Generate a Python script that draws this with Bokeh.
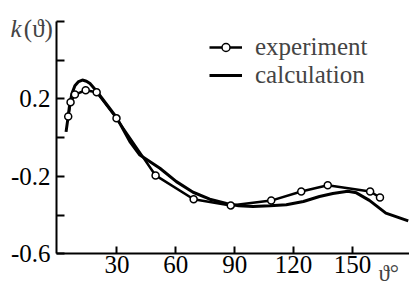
from bokeh.plotting import figure
from bokeh.models import FixedTicker, Label, Legend, LegendItem, Range1d
from bokeh.embed import file_html
from bokeh.resources import INLINE

# experiment (circles)
exp_theta = [5.2, 6.4, 8.6, 14.1, 19.7, 29.8, 49.7, 69.1, 88.0, 108.6, 123.9, 137.4, 159.0, 164.0]
exp_k = [0.11, 0.183, 0.223, 0.245, 0.235, 0.10, -0.195, -0.318, -0.35, -0.325, -0.278, -0.246, -0.278, -0.309]

# calculation (solid curve)
calc_theta = [4.1, 5.2, 5.8, 7.0, 8.6, 10.5, 12.4, 14.5, 16.3, 19.7, 25.0, 29.8, 36.6, 41.7, 51.9,
              60.3, 68.8, 77.3, 85.8, 92.0, 99.3, 108.0, 116.3, 125.0, 133.2, 140.0, 147.6, 152.0,
              158.6, 167.0, 178.4]
calc_k = [0.03, 0.11, 0.16, 0.225, 0.268, 0.29, 0.298, 0.292, 0.28, 0.24, 0.17, 0.105, -0.02, -0.09, -0.158,
          -0.227, -0.282, -0.318, -0.34, -0.352, -0.356, -0.352, -0.347, -0.33, -0.304, -0.288, -0.277, -0.285,
          -0.324, -0.39, -0.43]

x_ticks = [30, 60, 90, 120, 150]
y_ticks = [-0.6, -0.4, -0.2, 0.0, 0.2, 0.4, 0.6]
y_tick_labels = ["-0.6", "", "-0.2", "", "0.2", "", ""]

FONT = "'Liberation Serif'"

p = figure(width=409, height=284, output_backend="svg", toolbar_location=None,
           x_range=Range1d(-29.29, 179.04), y_range=Range1d(-0.7587, 0.7090),
           min_border_left=0, min_border_right=0, min_border_top=0, min_border_bottom=0)
p.outline_line_color = None
p.grid.visible = False
p.background_fill_color = "white"
p.border_fill_color = "white"

calc = p.line(calc_theta, calc_k, line_width=3, color="black")
exp_line = p.line(exp_theta, exp_k, line_width=2.5, color="black")
exp_pts = p.scatter(exp_theta, exp_k, size=7, fill_color="white", line_color="black", line_width=1.5)

for ax in (p.xaxis[0], p.yaxis[0]):
    ax.axis_line_width = 2
    ax.major_tick_line_width = 2
    ax.major_tick_out = 0
    ax.minor_tick_line_color = None
    ax.major_label_text_color = "black"
    ax.major_label_text_font = FONT
    ax.major_label_text_font_size = "25px"

p.xaxis.ticker = FixedTicker(ticks=x_ticks)
p.xaxis.fixed_location = -0.6
p.xaxis.bounds = (-0.76, 179.04)
p.xaxis.major_tick_in = 7
p.xaxis.major_label_standoff = 2

p.yaxis.ticker = FixedTicker(ticks=y_ticks)
p.yaxis.fixed_location = -0.76
p.yaxis.bounds = (-0.6, 0.6)
p.yaxis.major_tick_in = 8
p.yaxis.major_label_standoff = 6
p.yaxis.major_label_overrides = {t: s for t, s in zip(y_ticks, y_tick_labels)}

legend_style = dict(border_line_color=None, background_fill_alpha=0, padding=0, margin=0,
                    glyph_width=33, glyph_height=20, label_standoff=13,
                    label_text_font=FONT, label_text_font_size="25px", label_height=20)
p.add_layout(Legend(items=[LegendItem(label="experiment", renderers=[exp_line, exp_pts])],
                    location=(209, 223), **legend_style))
p.add_layout(Legend(items=[LegendItem(label="calculation", renderers=[calc])],
                    location=(209, 195), **legend_style))

p.add_layout(Label(x=-24.19, y=0.5618, text="k", text_font=FONT, text_font_style="italic",
                   text_font_size="25px", text_baseline="alphabetic"))
p.add_layout(Label(x=-17.42, y=0.5618, text="(ϑ)", text_font=FONT,
                   text_font_size="25px", text_baseline="alphabetic"))
p.add_layout(Label(x=163.2, y=-0.70, text="ϑ°", text_font=FONT,
                   text_font_size="23px", text_baseline="alphabetic"))

open("out.html", "w").write(file_html(p, INLINE))
